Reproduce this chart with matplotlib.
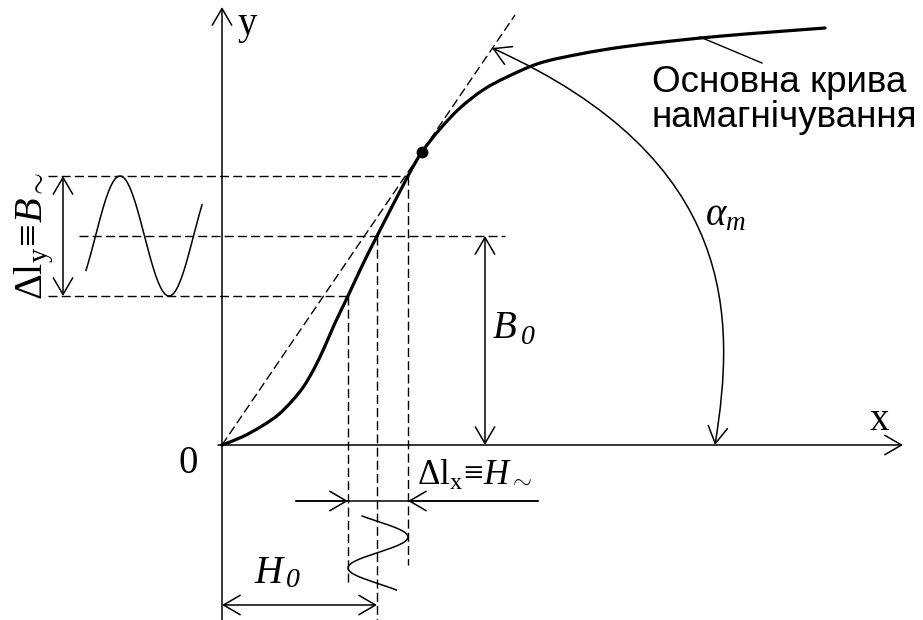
import numpy as np
import matplotlib
matplotlib.use("Agg")
import matplotlib.pyplot as plt
from matplotlib.patches import FancyArrowPatch, ArrowStyle, PathPatch
from matplotlib.path import Path

plt.rcParams['mathtext.fontset'] = 'custom'
plt.rcParams['mathtext.rm'] = 'Liberation Serif'
plt.rcParams['mathtext.it'] = 'Liberation Serif:italic'
plt.rcParams['mathtext.bf'] = 'Liberation Serif:bold'

# основна крива намагнічування B(H), умовні одиниці
curve_h = [0, 20, 40, 56, 70, 82, 93, 103, 113, 126, 140, 155, 186, 200, 218,
           238, 261, 285, 318, 358, 400, 450, 500, 550, 603]
curve_b = [0, 8, 19, 30, 44, 59, 78, 99, 122, 149, 179, 209, 269, 293, 316,
           337, 355, 368, 382, 391, 398, 404, 409, 413, 417]

# робоча точка та розмах змінної складової
h_levels = [126, 155, 186]      # H0 - H~, H0, H0 + H~
b_levels = [149, 209, 269]      # B0 - B~, B0, B0 + B~
tangent_point = (200, 293)
tangent_end = (293, 430)

# синусоїди: B(t) ліворуч, H(t) знизу
b_wave_t = (-136, -20)
b_wave_peak_t, b_wave_period = -102, 98
h_wave_t = (-71, -145)
h_wave_peak_t, h_wave_period = -92, 62

fig = plt.figure(figsize=(9.23, 6.2), dpi=100)
ax = fig.add_axes([0, 0, 1, 1])
ax.set_xlim(-222, 701)
ax.set_ylim(-175, 445)
ax.axis('off')

K = 'black'
dash = (0, (6.5, 3))


def arrow(p0, p1, style='<->', lw=1.1):
    st = ArrowStyle(style, head_length=12, head_width=7)
    ax.add_patch(FancyArrowPatch(p0, p1, arrowstyle=st, mutation_scale=1,
                                 lw=lw, color=K, shrinkA=0, shrinkB=0))


def smooth_path(xs, ys):
    # гладка крива через усі вузли (Catmull-Rom як кубічні сегменти Безьє)
    p = np.column_stack([xs, ys]).astype(float)
    verts, codes = [p[0]], [Path.MOVETO]
    for i in range(len(p) - 1):
        p_prev = p[i - 1] if i > 0 else p[i]
        p_next = p[i + 2] if i + 2 < len(p) else p[i + 1]
        c1 = p[i] + (p[i + 1] - p_prev) / 6
        c2 = p[i + 1] - (p_next - p[i]) / 6
        verts += [c1, c2, p[i + 1]]
        codes += [Path.CURVE4] * 3
    return Path(verts, codes)


# осі
arrow((0, -175), (0, 438), '->')
arrow((-4, 0), (681, 0), '->')

# дотична з початку координат
ax.plot([0, tangent_end[0]], [0, tangent_end[1]], color=K, lw=1.0, ls=dash)

# допоміжні пунктирні лінії
h_lo, h_0, h_hi = h_levels
b_lo, b_0, b_hi = b_levels
ax.plot([-174, h_hi], [b_hi, b_hi], color=K, lw=1.0, ls=dash)
ax.plot([-174, h_lo], [b_lo, b_lo], color=K, lw=1.0, ls=dash)
ax.plot([-143, 283], [b_0, b_0], color=K, lw=1.0, ls=dash)
ax.plot([h_lo, h_lo], [b_lo, -138], color=K, lw=1.0, ls=dash)
ax.plot([h_0, h_0], [b_0, -175], color=K, lw=1.0, ls=dash)
ax.plot([h_hi, h_hi], [b_hi, -120], color=K, lw=1.0, ls=dash)

# крива намагнічування
ax.add_patch(PathPatch(smooth_path(curve_h, curve_b), fill=False, ec=K, lw=2.3,
                       capstyle='round', joinstyle='round'))
ax.plot(*tangent_point, 'o', color=K, ms=7.5)

# синусоїда індукції
t = np.linspace(*b_wave_t, 200)
b_amp = (b_hi - b_lo) / 2
ax.plot(t, b_0 + b_amp * np.cos(2 * np.pi * (t - b_wave_peak_t) / b_wave_period),
        color=K, lw=1.1)

# синусоїда напруженості
t = np.linspace(*h_wave_t, 200)
h_amp = (h_hi - h_lo) / 2
ax.plot((h_lo + h_hi) / 2 + h_amp * np.cos(2 * np.pi * (t - h_wave_peak_t) / h_wave_period), t,
        color=K, lw=1.1)

# розмірні стрілки
arrow((-159, b_lo), (-159, b_hi))
arrow((263, 0), (263, b_0))
arrow((0, -160), (h_0, -160))
ax.plot([74, 316], [-56, -56], color=K, lw=1.1)
arrow((74, -56), (h_lo, -56), '->')
arrow((316, -56), (h_hi, -56), '->')

# дуга кута alpha_m
arc = Path([(270, 397), (518, 285), (513, 125), (493, 0)],
           [Path.MOVETO, Path.CURVE4, Path.CURVE4, Path.CURVE4])
ax.add_patch(FancyArrowPatch(path=arc, arrowstyle=ArrowStyle('<->', head_length=12, head_width=7),
                             mutation_scale=1, lw=1.1, color=K))

# виноска до кривої
ax.plot([478, 540], [408, 382], color=K, lw=1.0)

serif = 'Liberation Serif'
ax.text(15, 411, 'y', family=serif, fontsize=28, ha='left', va='baseline')
ax.text(648, 15, 'x', family=serif, fontsize=28, ha='left', va='baseline')
ax.text(-44, -28, '0', family=serif, fontsize=28, ha='left', va='baseline')
ax.text(271, 107, 'B', family=serif, style='italic', fontsize=28, ha='left', va='baseline')
ax.text(299, 101, '0', family=serif, style='italic', fontsize=20, ha='left', va='baseline')
ax.text(32, -138, 'H', family=serif, style='italic', fontsize=28, ha='left', va='baseline')
ax.text(64, -142, '0', family=serif, style='italic', fontsize=20, ha='left', va='baseline')
ax.text(483, 220, r'$\alpha_m$', fontsize=28, ha='left', va='baseline')
ax.text(195, -40, r'$\Delta\mathrm{l}_\mathrm{x}\!\equiv\!\mathit{H}_{\sim}$',
        fontsize=25, ha='left', va='baseline')
ax.text(-180, 145, r'$\Delta\mathrm{l}_\mathrm{y}\!\equiv\!\mathit{B}_{\sim}$',
        fontsize=29, rotation=90, rotation_mode='anchor', ha='left', va='baseline')

sans = 'Liberation Sans'
ax.text(430, 353, 'Основна крива', family=sans, fontsize=26.5, ha='left', va='baseline')
ax.text(430, 318, 'намагнічування', family=sans, fontsize=26.5, ha='left', va='baseline')

fig.savefig('out.png', dpi=100)
